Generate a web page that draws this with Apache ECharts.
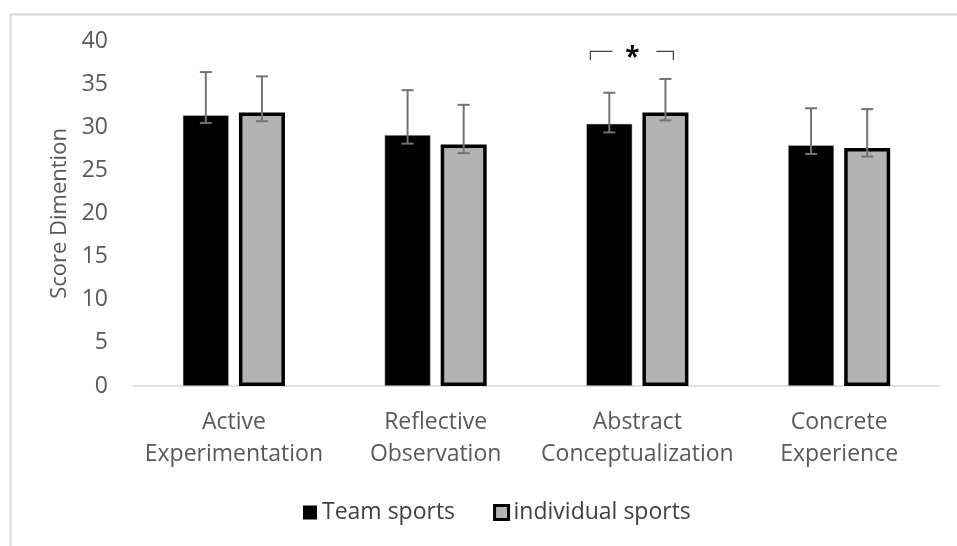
<!DOCTYPE html>
<html>
<head>
<meta charset="utf-8">
<script src="https://cdn.jsdelivr.net/npm/echarts@6/dist/echarts.min.js"></script>
<style>
html,body{margin:0;padding:0;background:#fff;}
#chart{width:957px;height:546px;}
</style>
</head>
<body>
<div id="chart"></div>
<script>
var categories = ['Active\nExperimentation', 'Reflective\nObservation', 'Abstract\nConceptualization', 'Concrete\nExperience'];
var seriesNames = ['Team sports', 'individual sports'];
var teamValues = [31.4, 29.1, 30.4, 27.9];
var teamUpper = [36.4, 34.3, 34.0, 32.2];
var teamLower = [30.5, 28.1, 29.4, 26.9];
var indivValues = [31.7, 28.0, 31.7, 27.6];
var indivUpper = [35.9, 32.6, 35.6, 32.1];
var indivLower = [30.7, 27.0, 30.8, 26.6];
var yTicks = [0, 5, 10, 15, 20, 25, 30, 35, 40];
var significance = [[2, 38.8, 37.8, '*']];

var FONT = '"Open Sans", "Liberation Sans", sans-serif';
var BAR_W = 46;
var GAP_PCT = 22;
var OFFSET = (BAR_W + BAR_W * GAP_PCT / 100) / 2;

function errData(lower, upper) {
  return lower.map(function (l, i) { return [i, l, upper[i]]; });
}
function errRender(sign) {
  return function (params, api) {
    var idx = api.value(0);
    var lo = api.coord([idx, api.value(1)]);
    var hi = api.coord([idx, api.value(2)]);
    var x = lo[0] + sign * OFFSET;
    var cap = 6;
    var st = { stroke: '#737373', lineWidth: 2 };
    return {
      type: 'group',
      children: [
        { type: 'line', shape: { x1: x, y1: lo[1], x2: x, y2: hi[1] }, style: st },
        { type: 'line', shape: { x1: x - cap, y1: lo[1], x2: x + cap, y2: lo[1] }, style: st },
        { type: 'line', shape: { x1: x - cap, y1: hi[1], x2: x + cap, y2: hi[1] }, style: st }
      ]
    };
  };
}

var chart = echarts.init(document.getElementById('chart'), null, { renderer: 'canvas' });
chart.setOption({
  backgroundColor: '#ffffff',
  animation: false,
  graphic: [{
    type: 'rect', left: 8, top: 12, silent: true,
    shape: { width: 1000, height: 600 },
    style: { fill: 'none', stroke: '#d9d9d9', lineWidth: 2 }
  }],
  grid: { left: 133, right: 17, top: 41, bottom: 160, containLabel: false },
  legend: {
    data: [
      { name: seriesNames[0], itemStyle: { color: '#000000', borderWidth: 0 } },
      { name: seriesNames[1], itemStyle: { color: '#b3b3b3', borderColor: '#000000', borderWidth: 3 } }
    ],
    top: 496,
    left: 298,
    icon: 'rect',
    itemWidth: 14,
    itemHeight: 14,
    itemGap: 38,
    textStyle: { fontFamily: FONT, fontSize: 23, color: '#404040' }
  },
  xAxis: {
    type: 'category',
    data: categories,
    axisLine: { show: true, lineStyle: { color: '#d9d9d9', width: 1.5 } },
    axisTick: { show: false },
    axisLabel: { interval: 0, fontFamily: FONT, fontSize: 23, color: '#595959', lineHeight: 32, margin: 20 }
  },
  yAxis: {
    type: 'value',
    min: yTicks[0],
    max: yTicks[yTicks.length - 1],
    interval: 5,
    name: 'Score Dimention',
    nameLocation: 'middle',
    nameGap: 62,
    nameTextStyle: { fontFamily: FONT, fontSize: 22, color: '#595959' },
    axisLine: { show: false },
    axisTick: { show: false },
    splitLine: { show: false },
    axisLabel: { fontFamily: FONT, fontSize: 23, color: '#595959', margin: 25 }
  },
  series: [
    {
      name: seriesNames[0], type: 'bar', data: teamValues,
      barWidth: BAR_W, barGap: GAP_PCT + '%',
      itemStyle: { color: '#000000', borderColor: '#d0d0d0', borderWidth: 0.5 }
    },
    {
      name: seriesNames[1], type: 'bar', data: indivValues,
      barWidth: BAR_W,
      itemStyle: { color: '#b3b3b3', borderColor: '#000000', borderWidth: 3.5 }
    },
    {
      name: 'errTeam', type: 'custom', data: errData(teamLower, teamUpper),
      encode: { x: 0, y: [1, 2] }, renderItem: errRender(-1), z: 10, silent: true
    },
    {
      name: 'errIndiv', type: 'custom', data: errData(indivLower, indivUpper),
      encode: { x: 0, y: [1, 2] }, renderItem: errRender(1), z: 10, silent: true
    },
    {
      name: 'sig', type: 'custom', data: significance,
      encode: { x: 0, y: [1, 2] }, z: 10, silent: true,
      renderItem: function (params, api) {
        var idx = api.value(0);
        var top = api.coord([idx, api.value(1)]);
        var tick = api.coord([idx, api.value(2)]);
        var cx = top[0];
        var st = { stroke: '#404040', lineWidth: 1.2, fill: 'none' };
        return {
          type: 'group',
          children: [
            { type: 'polyline', shape: { points: [[cx - 47, tick[1]], [cx - 47, top[1]], [cx - 25, top[1]]] }, style: st },
            { type: 'polyline', shape: { points: [[cx + 19, top[1]], [cx + 36, top[1]], [cx + 36, tick[1]]] }, style: st },
            { type: 'text', x: cx - 5, y: top[1] + 7,
              style: { text: api.value(3), fill: '#000', fontFamily: FONT, fontWeight: 'bold', fontSize: 26, align: 'center', verticalAlign: 'middle' } }
          ]
        };
      }
    }
  ]
});
</script>
</body>
</html>
